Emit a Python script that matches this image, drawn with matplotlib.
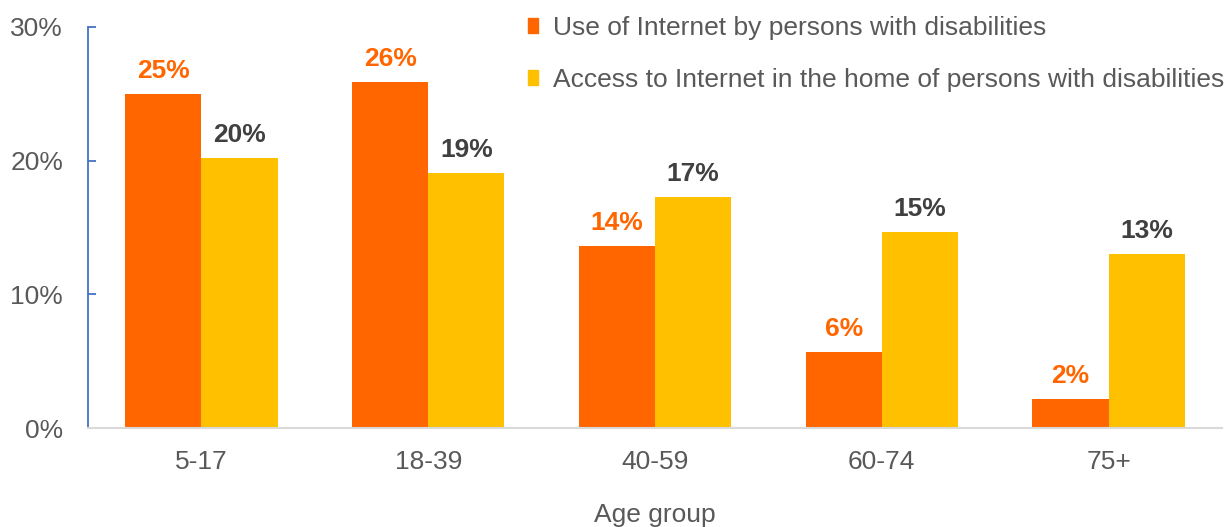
import numpy as np
import matplotlib
matplotlib.use("Agg")
import matplotlib.pyplot as plt
from matplotlib.patches import Patch
from matplotlib.ticker import FuncFormatter

plt.rcParams['font.family'] = ['Liberation Sans', 'DejaVu Sans']

# data (percent)
groups = ['5-17', '18-39', '40-59', '60-74', '75+']
use_internet = [25.0, 25.9, 13.6, 5.7, 2.2]
home_access = [20.2, 19.1, 17.3, 14.7, 13.0]
series_names = ['Use of Internet by persons with disabilities',
                'Access to Internet in the home of persons with disabilities']

orange = '#FF6600'
yellow = '#FFC000'
grey = '#595959'
fs = 19

fig = plt.figure(figsize=(12.3, 5.27), dpi=100)
ax = fig.add_axes([88/1230, 1 - 428/527, (1222-88)/1230, (428-27)/527])

x = np.arange(len(groups))
w = 0.336
b1 = ax.bar(x - w/2, use_internet, w, color=orange)
b2 = ax.bar(x + w/2, home_access, w, color=yellow)

# value labels
for bars, vals, c in [(b1, use_internet, orange), (b2, home_access, '#404040')]:
    for r, v in zip(bars, vals):
        ax.annotate(f"{round(v)}%", (r.get_x() + r.get_width()/2, v),
                    xytext=(0, 11.5), textcoords='offset points',
                    ha='center', va='baseline', fontsize=fs,
                    fontweight='bold', color=c)

ax.set_xlim(-0.5, len(groups) - 0.5)
ax.set_ylim(0, 30)
ax.set_yticks([0, 10, 20, 30])
ax.yaxis.set_major_formatter(FuncFormatter(lambda v, p: f"{int(v)}%"))
ax.set_xticks(x)
ax.set_xticklabels(groups)

for s in ['top', 'right']:
    ax.spines[s].set_visible(False)
ax.spines['left'].set_color('#4472C4')
ax.spines['left'].set_linewidth(1.3)
ax.spines['bottom'].set_color('#D9D9D9')
ax.spines['bottom'].set_linewidth(1.5)

ax.tick_params(axis='y', direction='in', length=6, width=1.3, color='#4472C4',
               labelsize=fs, labelcolor=grey, pad=18)
ax.tick_params(axis='x', length=0, labelsize=fs, labelcolor=grey, pad=15.5)

ax.set_xlabel('Age group', fontsize=fs, color=grey, labelpad=21)

handles = [Patch(color=orange), Patch(color=yellow)]
fig.legend(handles, series_names, loc='upper left',
           bbox_to_anchor=(528/1230, 1 - 16/527), frameon=False,
           fontsize=fs, labelcolor=grey, handlelength=0.38, handleheight=0.5,
           handletextpad=0.55, labelspacing=1.05, borderpad=0, borderaxespad=0)

plt.savefig('out.png', dpi=100)
